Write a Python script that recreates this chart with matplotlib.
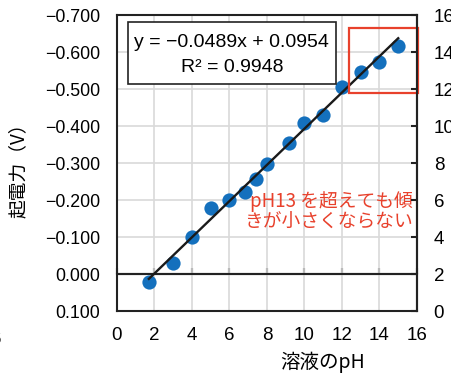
import numpy as np
import matplotlib
matplotlib.use("Agg")
import matplotlib.pyplot as plt
from matplotlib.patches import Rectangle
from matplotlib.ticker import FuncFormatter

# 測定データ (pH, 起電力 V)
ph = [1.7, 3.0, 4.0, 5.0, 6.0, 6.85, 7.4, 8.0, 9.2, 10.0, 11.0, 12.0, 13.0, 14.0, 15.0]
emf = [0.020, -0.031, -0.100, -0.178, -0.201, -0.223, -0.257, -0.298,
       -0.354, -0.408, -0.431, -0.507, -0.546, -0.573, -0.618]

slope = -0.0489
intercept = 0.0954
r2 = 0.9948

xticks = [0, 2, 4, 6, 8, 10, 12, 14, 16]
yticks = [-0.7, -0.6, -0.5, -0.4, -0.3, -0.2, -0.1, 0.0, 0.1]
rticks = [0, 2, 4, 6, 8, 10, 12, 14, 16]

note = "pH13 を超えても傾\nきが小さくならない"

num_font = ["Liberation Sans", "DejaVu Sans"]
jp_font = ["Noto Sans CJK JP", "DejaVu Sans"]
red = "#e8412c"
blue = "#1470bd"
grid_c = "#d9d9d9"

fig = plt.figure(figsize=(4.52, 3.74), dpi=100)
ax = fig.add_axes([0.2588, 0.1676, 0.6637, 0.7914])

ax.set_xlim(0, 16)
ax.set_ylim(0.1, -0.7)
ax.set_xticks(xticks)
ax.set_yticks(yticks)
ax.grid(True, color=grid_c, linewidth=1.2, zorder=0)
ax.set_axisbelow(True)

def fmt(v, pos):
    s = "%.3f" % v
    if abs(v) < 1e-9:
        s = "0.000"
    return s.replace("-", "\u2212")

ax.yaxis.set_major_formatter(FuncFormatter(fmt))
ax.tick_params(axis="both", length=0)
ax.tick_params(axis="y", pad=12, labelsize=12.8)
ax.tick_params(axis="x", pad=11, labelsize=13.5)
for lab in ax.get_xticklabels() + ax.get_yticklabels():
    lab.set_family(num_font)
for sp in ax.spines.values():
    sp.set_linewidth(1.5)
    sp.set_color("#222222")

# 0V の線と目盛り
ax.axhline(0, color="#222222", linewidth=1.5, zorder=2)
sec = ax.secondary_xaxis(0.125)
sec.set_xticks(xticks)
sec.tick_params(direction="in", length=4.5, width=1.5, labelbottom=False, color="#222222")
sec.spines["bottom"].set_linewidth(1.5)
sec.spines["bottom"].set_color("#222222")

ax.scatter(ph, emf, s=105, color=blue, zorder=3, linewidths=0)
xl = np.array([min(ph), max(ph)])
ax.plot(xl, slope * xl + intercept, color="#1a1a1a", linewidth=1.7, zorder=4)

# 近似式の枠
ax.add_patch(Rectangle((0.037, 0.768), 0.693, 0.209, transform=ax.transAxes,
                       facecolor="white", edgecolor="#222222", linewidth=1.2, zorder=5))
eq = "y = \u22120.0489x + 0.0954\nR\u00b2 = %.4f" % r2
ax.text(0.383, 0.866, eq, transform=ax.transAxes, ha="center", va="center",
        multialignment="center", fontsize=14, family=num_font, linespacing=1.65, zorder=6)

# 赤枠と注記
ax.add_patch(Rectangle((0.773, 0.736), 0.23, 0.222, transform=ax.transAxes,
                       facecolor="none", edgecolor=red, linewidth=1.6, clip_on=False, zorder=6))
ax.text(0.987, 0.335, note, transform=ax.transAxes, ha="right", va="center",
        multialignment="right", fontsize=13.5, color=red, family=jp_font,
        linespacing=1.0, zorder=6)

# 右側の軸
ax2 = ax.twinx()
ax2.set_ylim(0, 16)
ax2.set_yticks(rticks)
ax2.tick_params(axis="y", direction="in", length=4.5, width=1.5, pad=12,
                labelsize=13.5, color="#222222")
for lab in ax2.get_yticklabels():
    lab.set_family(num_font)
for k, sp in ax2.spines.items():
    sp.set_visible(k == "right")
ax2.spines["right"].set_linewidth(1.5)
ax2.spines["right"].set_color("#222222")

fig.text(18 / 452, 1 - 166 / 374, "起電力（V）", rotation=90, ha="center", va="center",
         fontsize=13.5, family=jp_font)
fig.text(323 / 452, 1 - 362 / 374, "溶液のpH", ha="center", va="center",
         fontsize=14, family=jp_font)
fig.text(2 / 452, 1 - 340 / 374, "6", ha="right", va="center", fontsize=13.5, family=num_font)

fig.savefig("out.png", dpi=100)
